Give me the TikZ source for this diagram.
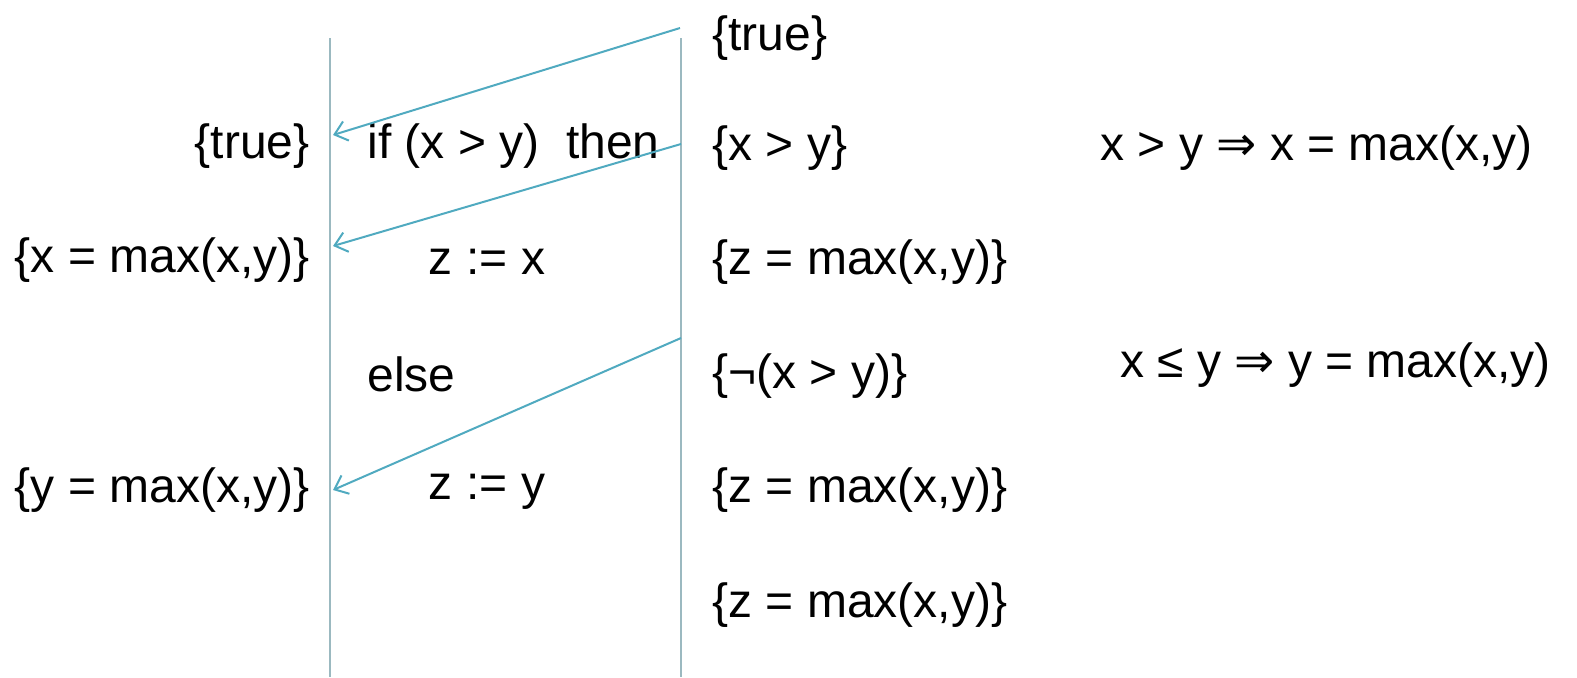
\documentclass[tikz,border=0pt]{standalone}
\usepackage{fontspec}
\setmainfont{Liberation Sans}
\newfontfamily\symfont{DejaVu Sans}
\usetikzlibrary{arrows.meta}

\definecolor{railcol}{RGB}{155,185,192}
\definecolor{hintcol}{RGB}{80,170,192}

\begin{document}
\begin{tikzpicture}[x=0.5pt,y=-0.5pt,
  txt/.style={inner sep=0pt,font=\fontsize{24}{28}\selectfont},
  rail/.style={draw=railcol,line width=1.3pt},
  hint/.style={draw=hintcol,line width=1pt,-{Straight Barb[length=6pt,width=10pt]}}]
  \useasboundingbox (0,0) rectangle (1577,677);

  % the two rails
  \coordinate (lt) at (330,38);
  \coordinate (lb) at (330,677);
  \coordinate (rt) at (681,38);
  \coordinate (rb) at (681,677);
  \draw[rail] (lt) -- (lb);
  \draw[rail] (rt) -- (rb);

  % program text
  \node[txt,anchor=west] (cond) at (367,146) {if (x > y)\ \ then};
  \node[txt] (thenpart) at (487,262) {z := x};
  \node[txt,anchor=west] (elsekw) at (367,374) {else};
  \node[txt] (elsepart) at (487,492) {z := y};

  % assertions on the left
  \node[txt,anchor=east] (preL) at (310,146) {\{true\}};
  \node[txt,anchor=east] (thenL) at (310,260) {\{x = max(x,y)\}};
  \node[txt,anchor=east] (elseL) at (310,490) {\{y = max(x,y)\}};

  % assertions on the right
  \node[txt,anchor=west] (preR) at (712,38) {\{true\}};
  \node[txt,anchor=west] (condR) at (712,148) {\{x > y\}};
  \node[txt,anchor=west] (thenR) at (712,262) {\{z = max(x,y)\}};
  \node[txt,anchor=west] (ncondR) at (712,376) {\{¬(x > y)\}};
  \node[txt,anchor=west] (elseR) at (712,490) {\{z = max(x,y)\}};
  \node[txt,anchor=west] (postR) at (712,605) {\{z = max(x,y)\}};

  % side conditions
  \node[txt,anchor=west] (impA) at (1100,148) {x > y {\symfont ⇒} x = max(x,y)};
  \node[txt,anchor=west] (impB) at (1120,365) {x ≤ y {\symfont ⇒} y = max(x,y)};

  % backward hints
  \coordinate (s1) at (680,28);
  \coordinate (e1) at (333,135);
  \coordinate (s2) at (681,144);
  \coordinate (e2) at (333,246);
  \coordinate (s3) at (681,338);
  \coordinate (e3) at (333,490);
  \draw[hint] (s1) -- (e1);
  \draw[hint] (s2) -- (e2);
  \draw[hint] (s3) -- (e3);
\end{tikzpicture}
\end{document}
